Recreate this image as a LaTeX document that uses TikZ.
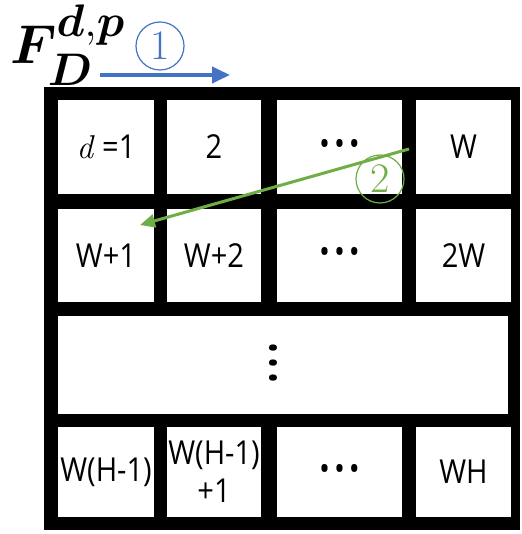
\documentclass[tikz,border=0pt]{standalone}
\usepackage{amsmath}
\usepackage{bm}
\usepackage{fontspec}
\newfontfamily\cellfont[FakeStretch=0.88]{Open Sans}
\usepackage{tikz}
\usetikzlibrary{arrows.meta,positioning}
\definecolor{orderblue}{HTML}{4472C4}
\definecolor{ordergreen}{HTML}{70AD47}
\tikzset{
  cellbox/.style={
    rectangle, fill=white, inner sep=0pt,
    align=center, font=\cellfont\fontsize{33}{38}\selectfont
  },
  ordermark/.style={
    circle, draw, line width=1.2pt, minimum size=48pt,
    inner sep=0pt, font=\fontsize{42}{42}\selectfont
  },
  orderarrow/.style={-{Triangle[length=18pt,width=16pt]}, line width=4pt},
  backarrow/.style={-{Triangle[length=15pt,width=13pt]}, line width=3pt},
}
\newcommand{\celldots}{\textbullet\kern4pt\textbullet\kern4pt\textbullet}

\begin{document}
\begin{tikzpicture}[x=1pt, y=-1pt]
  \useasboundingbox (0,0) rectangle (521,534);
  % title
  \node (title) [anchor=base west, inner sep=0pt]
    at (10,64) {\scalebox{2.2}{\Huge$\bm{F}_{\bm{D}}^{\bm{d}{,}\bm{p}}$}};
  % black frame
  \fill[black] (44,87) rectangle (520,530);
  % row 1
  \node (c11) [cellbox, minimum width=96pt, minimum height=94pt] at (106,147) {{\rmfamily\itshape d\/} =1};
  \node (c12) [cellbox, minimum width=94pt, minimum height=94pt] at (214,147) {2};
  \node (c13) [cellbox, minimum width=125pt, minimum height=94pt] at (339.5,147) {\celldots};
  \node (c14) [cellbox, minimum width=95pt, minimum height=94pt] at (463.5,147) {W};
  % row 2
  \node (c21) [cellbox, minimum width=96pt, minimum height=93pt] at (106,255.5) {W+1};
  \node (c22) [cellbox, minimum width=94pt, minimum height=93pt] at (214,255.5) {W+2};
  \node (c23) [cellbox, minimum width=125pt, minimum height=93pt] at (339.5,255.5) {\celldots};
  \node (c24) [cellbox, minimum width=95pt, minimum height=93pt] at (463.5,255.5) {2W};
  % row 3
  \node (c3) [cellbox, minimum width=450pt, minimum height=98pt] at (283,365) {};
  \node (vdots) [cellbox, rotate=90] at (277,363) {\celldots};
  % row 4
  \node (c41) [cellbox, minimum width=96pt, minimum height=90pt] at (106,472) {W(H-1)};
  \node (c42) [cellbox, minimum width=94pt, minimum height=90pt] at (214,472) {W(H-1)\\+1};
  \node (c43) [cellbox, minimum width=125pt, minimum height=90pt] at (339.5,472) {\celldots};
  \node (c44) [cellbox, minimum width=95pt, minimum height=90pt] at (463.5,472) {WH};
  % scan order
  \coordinate (bluestart) at (100,75);
  \coordinate (blueend) at (230,75);
  \draw[orderarrow, orderblue] (bluestart) -- (blueend);
  \node (mark1) [ordermark, orderblue] at (160,46) {1};
  \coordinate (greenstart) at (409,149);
  \coordinate (greenend) at (140,225);
  \draw[backarrow, ordergreen] (greenstart) -- (greenend);
  \node (mark2) [ordermark, ordergreen] at (380,179) {2};
\end{tikzpicture}
\end{document}
